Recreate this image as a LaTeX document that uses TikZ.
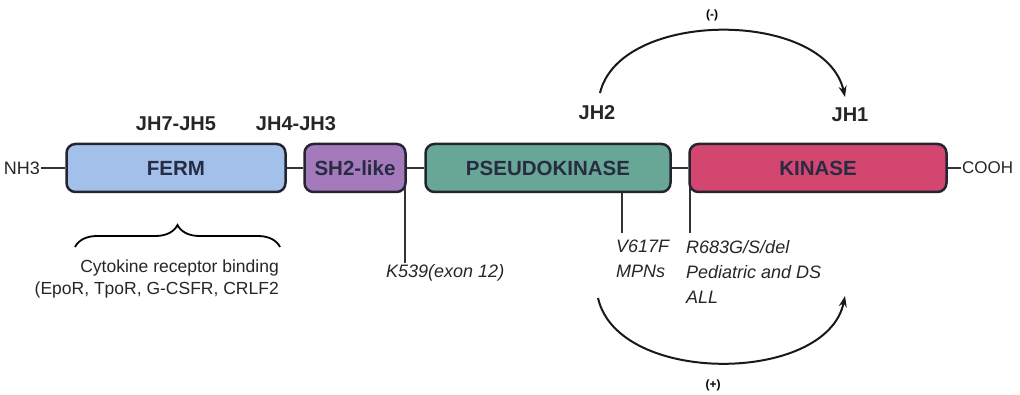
\documentclass[tikz,border=0pt]{standalone}
\usepackage{fontspec}
\setmainfont{Liberation Sans}
\usetikzlibrary{decorations.pathreplacing,backgrounds,arrows.meta}
\definecolor{fermblue}{RGB}{162,192,234}
\definecolor{shpurple}{RGB}{164,122,188}
\definecolor{pseudogreen}{RGB}{104,166,150}
\definecolor{kinred}{RGB}{210,70,112}
\definecolor{boxedge}{RGB}{35,38,48}
\definecolor{boxtext}{RGB}{40,44,66}

\begin{document}
\begin{tikzpicture}[>={Stealth[length=11pt,width=8pt]},x=1pt,y=1pt,
  dom/.style={draw=boxedge,line width=2.5pt,rounded corners=9pt,minimum height=48pt,
    inner sep=0pt,text=boxtext,font=\fontsize{20.5}{24}\selectfont\bfseries},
  jh/.style={font=\fontsize{20}{24}\selectfont\bfseries,text=black!85},
  mut/.style={font=\fontsize{18}{25}\selectfont\itshape,align=left,anchor=north west,inner sep=0pt,text=black!85},
  link/.style={line width=1.6pt,draw=black!80},
  flow/.style={->,line width=2pt,draw=black!90}]
\useasboundingbox (0,0) rectangle (1020,394);
% domains
\node[dom,fill=fermblue,minimum width=219pt] (ferm) at (176,226) {FERM};
\node[dom,fill=shpurple,minimum width=101pt] (sh2) at (355,226) {SH2-like};
\node[dom,fill=pseudogreen,minimum width=245pt] (pseudo) at (548,226) {PSEUDOKINASE};
\node[dom,fill=kinred,minimum width=257pt] (kin) at (818,226) {KINASE};
\node[anchor=east,inner sep=1pt,font=\fontsize{18}{20}\selectfont,text=black!85] (nh3) at (41,226) {NH3};
\node[anchor=west,inner sep=1pt,font=\fontsize{17}{20}\selectfont,text=black!85] (cooh) at (961,226) {COOH};
\draw[link] (nh3) -- (ferm);
\draw[link] (ferm) -- (sh2);
\draw[link] (sh2) -- (pseudo);
\draw[link] (pseudo) -- (kin);
\draw[link] (kin) -- (cooh);
% JH regions
\node[jh] (jh75) at (176,270) {JH7-JH5};
\node[jh] (jh43) at (296,270) {JH4-JH3};
\node[jh] (jh2) at (597,281) {JH2};
\node[jh] (jh1) at (850,279) {JH1};
% mutations
\coordinate (k539) at (405,131);
\coordinate (v617) at (622,161);
\coordinate (r683) at (690,161);
\begin{scope}[on background layer]
\draw[link] (k539) -- (k539 |- sh2.center);
\draw[link] (v617) -- (v617 |- pseudo.center);
\draw[link] (r683) -- (r683 |- kin.center);
\end{scope}
\node[mut] (k539lab) at (386,130) {K539(exon 12)};
\node[mut] (v617lab) at (616,154) {V617F\\MPNs};
\node[mut] (r683lab) at (686,154) {R683G/S/del\\Pediatric and DS\\ALL};
% cytokine binding
\coordinate (brl) at (75,147);
\coordinate (brr) at (280,147);
\draw[decorate,decoration={brace,amplitude=22pt},line width=1.8pt] (brl) -- (brr);
\node[align=right,anchor=east,inner sep=0pt,font=\fontsize{17.5}{22}\selectfont,text=black!85] (cyto) at (279,115)
  {Cytokine receptor binding\\(EpoR, TpoR, G-CSFR, CRLF2};
% regulation
\coordinate (up2) at (600,301);
\coordinate (up1) at (845,297);
\coordinate (dn2) at (598,96);
\coordinate (dn1) at (845,98);
\draw[flow] (up2) .. controls (620,385) and (825,385) .. (up1);
\draw[flow] (dn2) .. controls (618,8) and (827,10) .. (dn1);
\node[font=\fontsize{12}{14}\selectfont\bfseries] (neg) at (712,379) {(-)};
\node[font=\fontsize{12}{14}\selectfont\bfseries] (pos) at (713,9) {(+)};
\end{tikzpicture}
\end{document}
